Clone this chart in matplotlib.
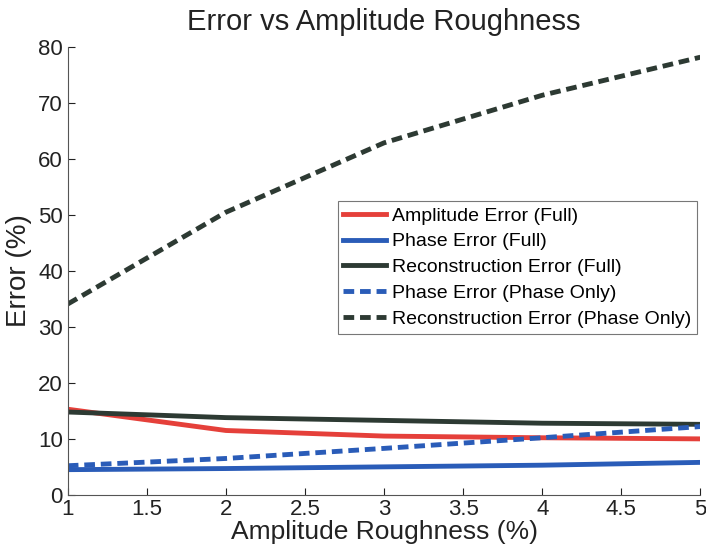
import matplotlib
matplotlib.use("Agg")
import matplotlib.pyplot as plt

plt.rcParams['font.family'] = ['Liberation Sans', 'DejaVu Sans']

roughness = [1, 2, 3, 4, 5]
amp_err_full = [15.3, 11.5, 10.5, 10.2, 10.0]
phase_err_full = [4.5, 4.7, 5.0, 5.3, 5.8]
recon_err_full = [14.8, 13.8, 13.3, 12.8, 12.6]
phase_err_phase_only = [5.2, 6.5, 8.3, 10.2, 12.2]
recon_err_phase_only = [34.1, 50.5, 62.9, 71.4, 78.2]

red = "#e5403a"
blue = "#2a5cb8"
dark = "#2d3a33"

fig = plt.figure(figsize=(7.06, 5.48), dpi=100)
ax = fig.add_axes([0.096, 0.097, 0.896, 0.817])

lw = 3.5
ax.plot(roughness, amp_err_full, color=red, lw=lw, label="Amplitude Error (Full)")
ax.plot(roughness, phase_err_full, color=blue, lw=lw, label="Phase Error (Full)")
ax.plot(roughness, recon_err_full, color=dark, lw=lw, label="Reconstruction Error (Full)")
ax.plot(roughness, phase_err_phase_only, color=blue, lw=lw, ls=(0, (2.2, 1.2)),
        label="Phase Error (Phase Only)")
ax.plot(roughness, recon_err_phase_only, color=dark, lw=lw, ls=(0, (2.2, 1.2)),
        label="Reconstruction Error (Phase Only)")

ax.set_xlim(1, 5)
ax.set_ylim(0, 80)
ax.set_xticks([1, 1.5, 2, 2.5, 3, 3.5, 4, 4.5, 5])
ax.set_xticklabels(["1", "1.5", "2", "2.5", "3", "3.5", "4", "4.5", "5"])
ax.set_yticks(range(0, 81, 10))
ax.tick_params(direction="in", labelsize=16, length=5, width=0.8, colors="#222222")
ax.tick_params(axis="x", pad=3)
for side in ["top", "right"]:
    ax.spines[side].set_visible(False)
for side in ["left", "bottom"]:
    ax.spines[side].set_color("#555555")

ax.set_title("Error vs Amplitude Roughness", fontsize=21, color="#222222", pad=12)
ax.set_xlabel("Amplitude Roughness (%)", fontsize=19, color="#222222", labelpad=0)
ax.set_ylabel("Error (%)", fontsize=20, color="#222222", labelpad=4)

leg = ax.legend(loc="lower right", bbox_to_anchor=(0.995, 0.36), fontsize=14,
                frameon=True, fancybox=False, edgecolor="#555555",
                handlelength=2.2, handletextpad=0.3, borderpad=0.3,
                labelspacing=0.42, borderaxespad=0.0)
leg.get_frame().set_linewidth(0.8)

fig.savefig("out.png", dpi=100)
